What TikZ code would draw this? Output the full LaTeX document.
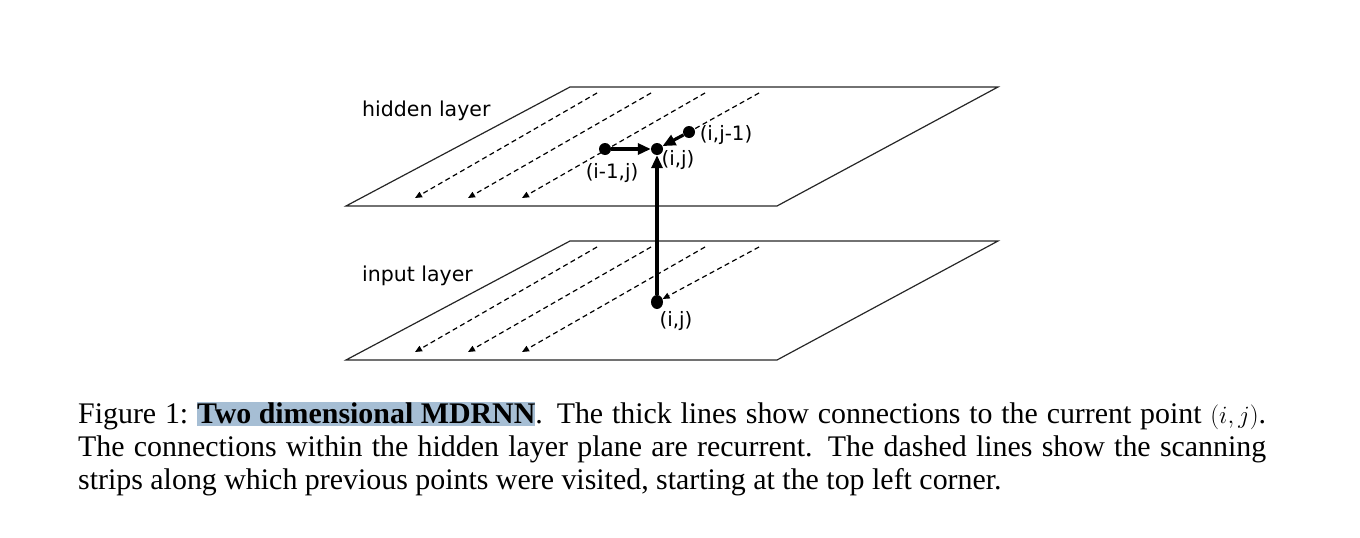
\documentclass[tikz,border=0pt]{standalone}
\usepackage{fontspec}
\setmainfont{Liberation Serif}
\newfontfamily\labelfont{DejaVu Sans}
\usetikzlibrary{arrows.meta,shapes.geometric}
\definecolor{hl}{RGB}{166,190,212}
\begin{document}
\begin{tikzpicture}[x=1pt,y=-1pt,
  plane/.style={draw=black!85,line width=1.2pt,line join=miter},
  scan/.style={dash pattern=on 5pt off 3.5pt, line width=1.2pt, -{Triangle[length=7pt,width=6pt]}},
  scanend/.style={dash pattern=on 5pt off 3.5pt, line width=1.2pt},
  dotnode/.style={circle,fill=black,inner sep=0pt,minimum size=12pt},
  conn/.style={line width=3.2pt,-{Triangle[length=13pt,width=11pt]}},
  lbl/.style={font=\labelfont\fontsize{19.8}{22}\selectfont, inner sep=0pt},
  layername/.style={font=\labelfont\fontsize{20.5}{24}\selectfont, anchor=west, inner sep=0pt}]
\useasboundingbox (0,0) rectangle (1360,538);

% planes
\draw[plane] (570,87) -- (998,87) -- (777,206) -- (346,206) -- cycle;
\draw[plane] (570,241) -- (998,241) -- (777,360) -- (346,360) -- cycle;

\node[layername] (hname) at (362,111) {hidden layer};
\node[layername] (iname) at (362,276) {input layer};

% hidden dots
\node[dotnode] (him1) at (605,149) {};
\node[dotnode] (hij) at (657,149) {};
\node[dotnode] (hjm1) at (689,132) {};
% input dot
\node[ellipse, fill=black, inner sep=0pt, minimum height=14pt, minimum width=12pt] (iij) at (657,302) {};

% hidden scanning strips
\coordinate (hs1) at (597,93); \coordinate (he1) at (415,198);
\coordinate (hs2) at (651,93); \coordinate (he2) at (468,198);
\coordinate (hs3) at (705,93); \coordinate (he3) at (522,198);
\coordinate (hs4) at (759,93);
\draw[scan] (hs1) -- (he1);
\draw[scan] (hs2) -- (he2);
\draw[scan] (hs3) -- (he3);
\draw[scanend] (hs4) -- (hjm1.center);

% input scanning strips
\coordinate (is1) at (597,247); \coordinate (ie1) at (415,352);
\coordinate (is2) at (651,247); \coordinate (ie2) at (468,352);
\coordinate (is3) at (705,247); \coordinate (ie3) at (522,352);
\coordinate (is4) at (759,247);
\draw[scan] (is1) -- (ie1);
\draw[scan] (is2) -- (ie2);
\draw[scan] (is3) -- (ie3);
\draw[scan] (is4) -- (iij);

% thick connections
\draw[conn] (him1) -- (hij);
\draw[conn] (hjm1) -- (hij);
\draw[conn] (iij) -- (hij);

% labels
\node[lbl] (l1) at (612,173) {(i-1,j)};
\node[lbl] (l2) at (678,160) {(i,j)};
\node[lbl] (l3) at (726,135) {(i,j-1)};
\node[lbl] (l4) at (676,321) {(i,j)};

% caption
\node[anchor=north west, text width=1188pt, align=justify, inner sep=0pt,
      font=\fontsize{29.9}{33}\selectfont] (cap) at (78,402)
 {\sfcode`\:=1000 Figure 1: {\setlength{\fboxsep}{0pt}\colorbox{hl}{\rule[-3pt]{0pt}{24pt}\textbf{Two dimensional MDRNN}}}. The thick lines show connections to the current point $(i,j)$.\linebreak
 The connections within the hidden layer plane are recurrent. The dashed lines show the scanning\linebreak
 strips along which previous points were visited, starting at the top left corner.};
\end{tikzpicture}
\end{document}
